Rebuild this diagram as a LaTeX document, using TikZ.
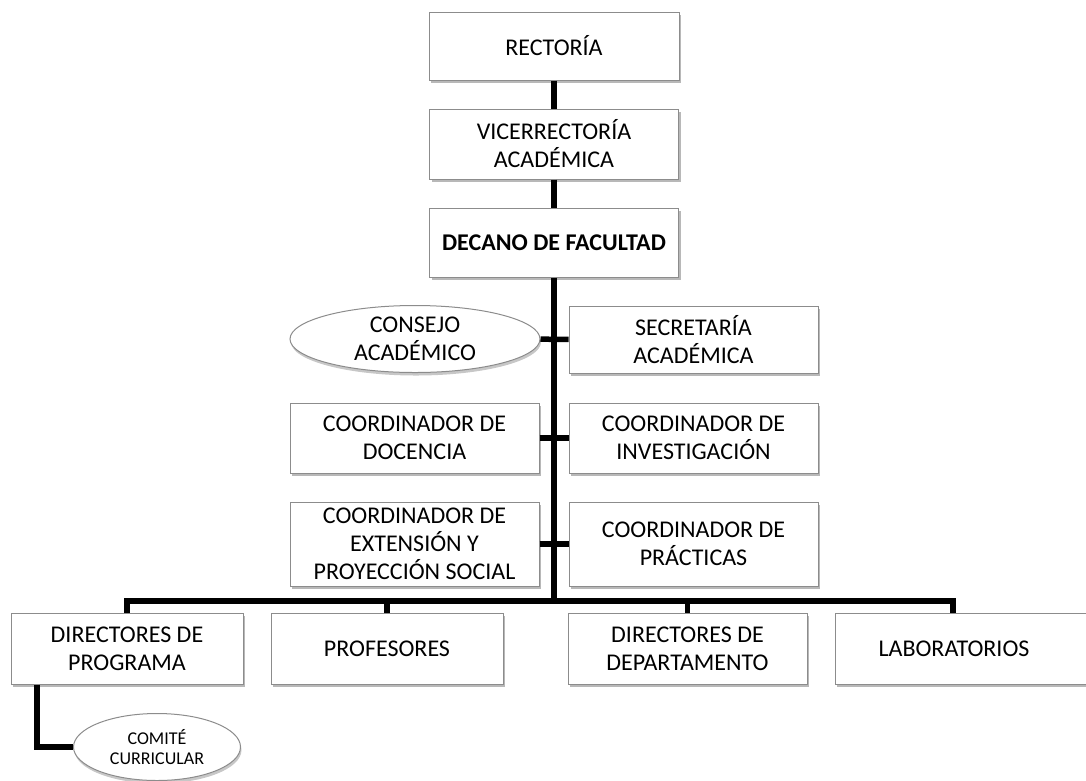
\documentclass[tikz,border=0pt]{standalone}
\usepackage{fontspec}
\setmainfont{Carlito}
\usepackage{tikz}
\usetikzlibrary{shapes.geometric}
\usetikzlibrary{shadows}

\begin{document}
\begin{tikzpicture}[x=1pt,y=-1pt,
	box/.style={shape=rectangle,draw=black!45,line width=1pt,fill=white,inner sep=0pt,align=center,
		drop shadow={shadow xshift=2pt,shadow yshift=-3pt,fill=black,opacity=.28},
		font=\fontsize{24}{28}\selectfont},
	oval/.style={shape=ellipse,draw=black!45,line width=1pt,fill=white,inner sep=0pt,align=center,
		drop shadow={shadow xshift=1pt,shadow yshift=-3pt,fill=black,opacity=.22},
		font=\fontsize{24}{28}\selectfont},
	conn/.style={line width=5.5pt,black}]
			\useasboundingbox (0,0) rectangle (1086,780);

			%% nodes
			\node[box, minimum width=250pt, minimum height=68pt] (rect) at (554,46) {RECTORÍA};
			\node[box, minimum width=249pt, minimum height=70pt] (vice) at (554,144) {VICERRECTORÍA\\ACADÉMICA};
			\node[box, minimum width=249pt, minimum height=69pt] (decano) at (554,242.5) {\textbf{DECANO DE FACULTAD}};
			\node[oval, minimum width=250pt, minimum height=67pt] (consejo) at (415,339) {CONSEJO\\ACADÉMICO};
			\node[box, minimum width=249pt, minimum height=67pt] (secretaria) at (693.5,339.5) {SECRETARÍA\\ACADÉMICA};
			\node[box, minimum width=249pt, minimum height=70pt] (docencia) at (414.5,438) {COORDINADOR DE\\DOCENCIA};
			\node[box, minimum width=249pt, minimum height=70pt] (investigacion) at (693.5,438) {COORDINADOR DE\\INVESTIGACIÓN};
			\node[box, minimum width=249pt, minimum height=84pt] (extension) at (414.5,544) {COORDINADOR DE\\EXTENSIÓN Y\\PROYECCIÓN SOCIAL};
			\node[box, minimum width=249pt, minimum height=84pt] (practicas) at (693.5,544) {COORDINADOR DE\\PRÁCTICAS};
			\node[box, minimum width=232pt, minimum height=71pt] (dirprog) at (127,648.5) {DIRECTORES DE\\PROGRAMA};
			\node[box, minimum width=232pt, minimum height=71pt] (profesores) at (387,648.5) {PROFESORES};
			\node[box, minimum width=239pt, minimum height=71pt] (dirdep) at (687.5,648.5) {DIRECTORES DE\\DEPARTAMENTO};
			\node[box, minimum width=254pt, minimum height=71pt] (lab) at (962,648.5) {LABORATORIOS\hspace*{16pt}};
			\node[oval, minimum width=167pt, minimum height=67pt, font=\fontsize{18}{20}\selectfont] (comite) at (157,747) {COMITÉ\\CURRICULAR};

			\coordinate (busL) at (127,601);
			\coordinate (busR) at (953,601);
			\coordinate (comiteX) at (37,747);

			%% lines
			\draw[conn] (rect) -- (vice);
			\draw[conn] (vice) -- (decano);
			\draw[conn] (decano.south) -- (decano.south |- busL);
			\draw[conn] (consejo) -- (secretaria);
			\draw[conn] (docencia) -- (investigacion);
			\draw[conn] (extension) -- (practicas);
			\draw[conn] (dirprog.north) -- (busL) -- (busR) -- (busR |- lab.north);
			\draw[conn] (profesores.north) -- (profesores.north |- busL);
			\draw[conn] (dirdep.north) -- (dirdep.north |- busL);
			\draw[conn] (comiteX |- dirprog.south) |- (comite.west);
		\end{tikzpicture}
\end{document}
